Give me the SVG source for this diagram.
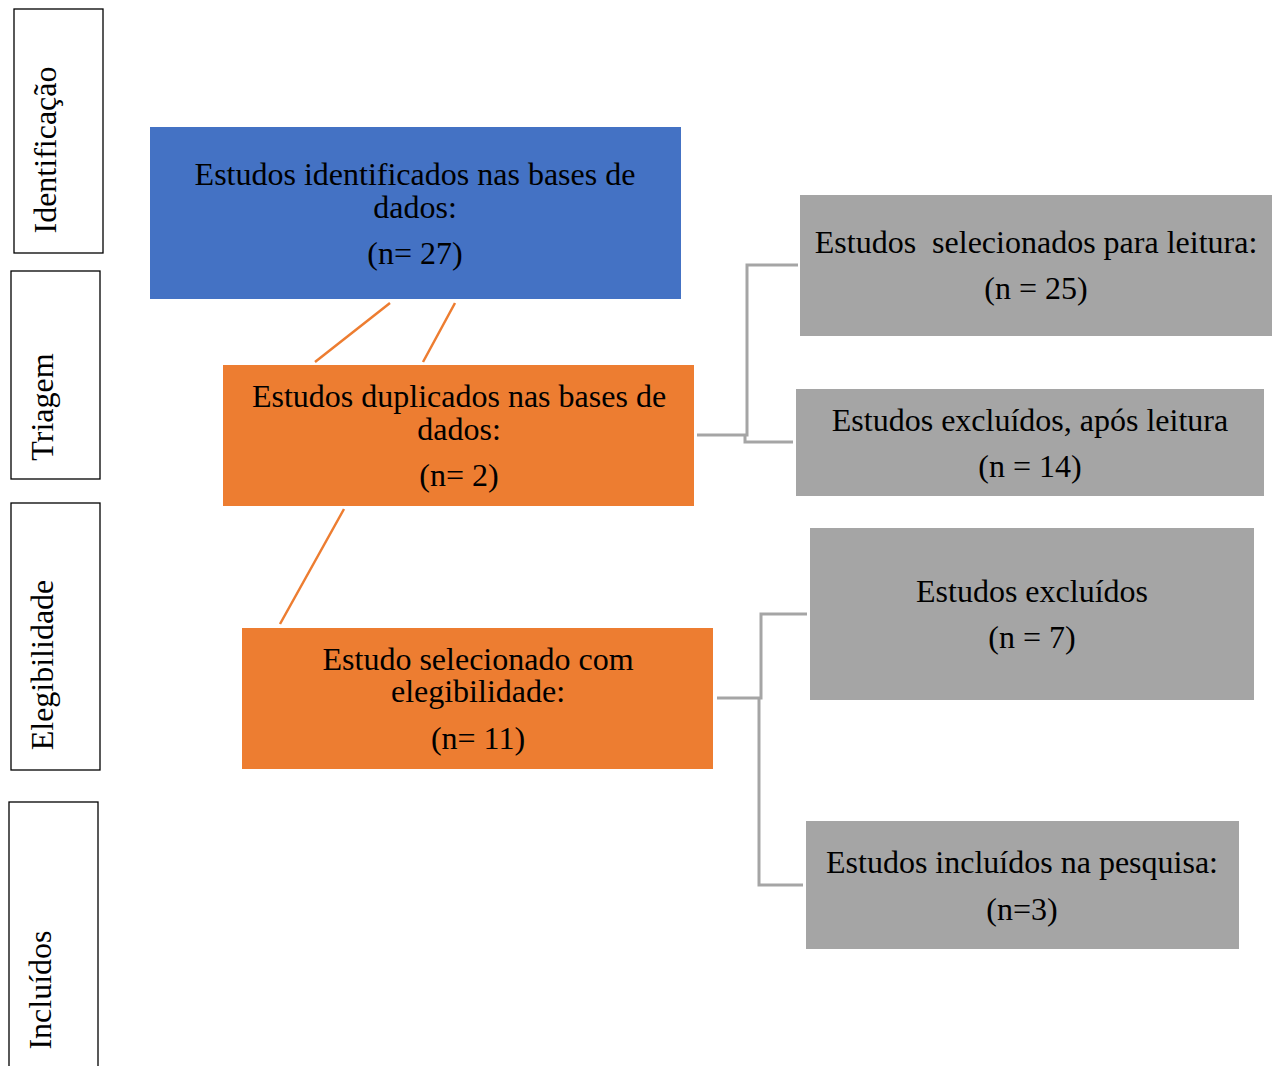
<svg xmlns="http://www.w3.org/2000/svg" width="1280" height="1066" viewBox="0 0 1280 1066">
<style>
text{font-family:"Liberation Serif","Times New Roman",serif;font-size:32px;fill:#000;text-anchor:middle}
.stage{fill:#fff;stroke:#000;stroke-width:1.3}
.blue{fill:#4472C4}
.orange{fill:#ED7D31}
.gray{fill:#A5A5A5}
.gl{fill:none;stroke:#A5A5A5;stroke-width:3}
.ol{fill:none;stroke:#ED7D31;stroke-width:2.5}
</style>
<rect width="1280" height="1066" fill="#fff"/>
<g id="stage-identificacao"><rect class="stage" x="14" y="9" width="89" height="244"/><text transform="translate(56,150) rotate(-90)">Identificação</text></g>
<g id="stage-triagem"><rect class="stage" x="11" y="271" width="89" height="208"/><text transform="translate(53,407) rotate(-90)">Triagem</text></g>
<g id="stage-elegibilidade"><rect class="stage" x="11" y="503" width="89" height="267"/><text transform="translate(53,665) rotate(-90)">Elegibilidade</text></g>
<g id="stage-incluidos"><rect class="stage" x="9" y="802" width="89" height="270"/><text transform="translate(51,990) rotate(-90)">Incluídos</text></g>

<g id="connectors">
<path class="ol" d="M390,303 L315,362 M455,303 L423,362 M344,509 L280,624"/>
<path class="gl" d="M697,435 H747 V265 H798 M745,435 V442 H793"/>
<path class="gl" d="M717,698 H761 V614 H807 M759,698 V885 H803"/>
</g>

<g id="n-identificados"><rect class="blue" x="150" y="127" width="531" height="172"/>
<text x="415" y="185">Estudos identificados nas bases de</text><text x="415" y="218">dados:</text><text x="415" y="264">(n= 27)</text></g>
<g id="n-duplicados"><rect class="orange" x="223" y="365" width="471" height="141"/>
<text x="459" y="407">Estudos duplicados nas bases de</text><text x="459" y="440">dados:</text><text x="459" y="486">(n= 2)</text></g>
<g id="n-elegibilidade"><rect class="orange" x="242" y="628" width="471" height="141"/>
<text x="478" y="670">Estudo selecionado com</text><text x="478" y="702">elegibilidade:</text><text x="478" y="749">(n= 11)</text></g>
<g id="n-selecionados"><rect class="gray" x="800" y="195" width="472" height="141"/>
<text x="1036" y="253" xml:space="preserve">Estudos  selecionados para leitura:</text><text x="1036" y="299">(n = 25)</text></g>
<g id="n-excluidos-leitura"><rect class="gray" x="796" y="389" width="468" height="107"/>
<text x="1030" y="431">Estudos excluídos, após leitura</text><text x="1030" y="477">(n = 14)</text></g>
<g id="n-excluidos"><rect class="gray" x="810" y="528" width="444" height="172"/>
<text x="1032" y="602">Estudos excluídos</text><text x="1032" y="648">(n = 7)</text></g>
<g id="n-incluidos"><rect class="gray" x="806" y="821" width="433" height="128"/>
<text x="1022" y="873">Estudos incluídos na pesquisa:</text><text x="1022" y="920">(n=3)</text></g>
</svg>
